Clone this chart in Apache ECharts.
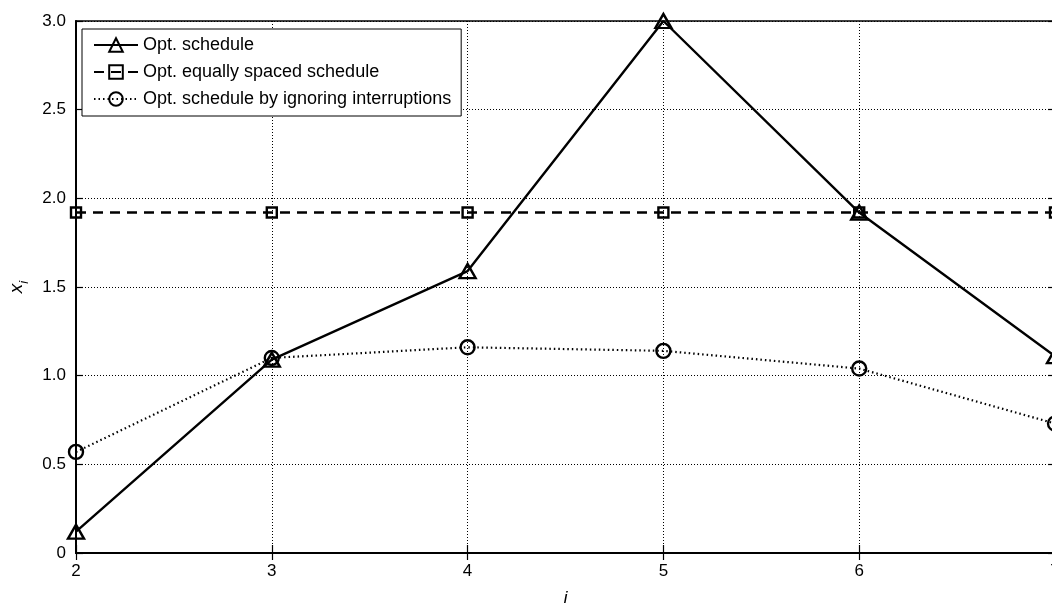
<!DOCTYPE html>
<html>
<head>
<meta charset="utf-8">
<script src="https://cdn.jsdelivr.net/npm/echarts@6/dist/echarts.min.js"></script>
<style>
html,body{margin:0;padding:0;background:#fff;}
#chart{width:1052px;height:603px;}
</style>
</head>
<body>
<div id="chart"></div>
<script>
// ---- data ----
var categories = [2, 3, 4, 5, 6, 7];
var optSchedule = [0.12, 1.09, 1.59, 3.00, 1.92, 1.11];
var equalSchedule = [1.92, 1.92, 1.92, 1.92, 1.92, 1.92];
var ignoreSchedule = [0.57, 1.10, 1.16, 1.14, 1.04, 0.73];
var seriesNames = ['Opt. schedule', 'Opt. equally spaced schedule', 'Opt. schedule by ignoring interruptions'];
var yTicks = [0, 0.5, 1.0, 1.5, 2.0, 2.5, 3.0];

function pairs(vals) {
  return categories.map(function (c, i) { return [c, vals[i]]; });
}

var FONT = 'Liberation Sans, Arial, Helvetica, sans-serif';
var chart = echarts.init(document.getElementById('chart'), null, {renderer: 'canvas'});

var gridLine = {show: true, lineStyle: {color: '#000', width: 1, type: [1, 2]}};

var option = {
  animation: false,
  backgroundColor: '#fff',
  textStyle: {fontFamily: FONT},
  grid: {
    left: 76, right: -3, top: 21, bottom: 50,
    containLabel: false,
    outerBoundsMode: 'none',
    show: true, borderColor: '#000', borderWidth: 1.5, backgroundColor: 'transparent'
  },
  legend: {
    left: 82, top: 29,
    orient: 'vertical',
    backgroundColor: '#fff',
    borderColor: '#000', borderWidth: 1,
    borderRadius: 0,
    padding: [7, 10, 8, 11],
    itemWidth: 44, itemHeight: 17, itemGap: 9, itemTextGap: 5,
    textStyle: {fontSize: 18, color: '#000', fontFamily: FONT},
    data: seriesNames
  },
  xAxis: [{
    type: 'value', min: 2, max: 7, interval: 1, position: 'bottom',
    axisLine: {show: true, lineStyle: {color: '#000', width: 2}},
    axisTick: {show: true, inside: true, length: 8, lineStyle: {color: '#000', width: 1.2}},
    axisLabel: {color: '#000', fontSize: 17, margin: 10, fontFamily: FONT},
    splitLine: gridLine,
    name: 'i', nameLocation: 'middle', nameGap: 37,
    nameTextStyle: {fontSize: 18, fontStyle: 'italic', color: '#000', fontFamily: FONT}
  }, {
    type: 'value', min: 2, max: 7, interval: 1, position: 'top',
    axisLine: {show: true, lineStyle: {color: '#000', width: 1.5}},
    axisTick: {show: true, inside: true, length: 7, lineStyle: {color: '#000', width: 1.2}},
    axisLabel: {show: false}, splitLine: {show: false}
  }],
  yAxis: [{
    type: 'value', min: 0, max: 3, interval: 0.5, position: 'left',
    axisLine: {show: true, lineStyle: {color: '#000', width: 2}},
    axisTick: {show: true, inside: true, length: 7, lineStyle: {color: '#000', width: 1.2}},
    axisLabel: {
      color: '#000', fontSize: 17, margin: 10, fontFamily: FONT,
      formatter: function (v) {
        for (var k = 0; k < yTicks.length; k++) {
          if (Math.abs(yTicks[k] - v) < 1e-9) return v === 0 ? '0' : yTicks[k].toFixed(1);
        }
        return '';
      }
    },
    splitLine: gridLine,
    name: '{x|x}{s|i}', nameLocation: 'middle', nameGap: 50, nameRotate: 90,
    nameTextStyle: {
      color: '#000', fontFamily: FONT,
      rich: {
        x: {fontSize: 19, fontStyle: 'italic', color: '#000', fontFamily: FONT, verticalAlign: 'bottom', lineHeight: 22},
        s: {fontSize: 13, fontStyle: 'italic', color: '#000', fontFamily: FONT, verticalAlign: 'bottom', lineHeight: 22, padding: [0, 0, -5, 0]}
      }
    }
  }, {
    type: 'value', min: 0, max: 3, interval: 0.5, position: 'right',
    axisLine: {show: true, lineStyle: {color: '#000', width: 1.5}},
    axisTick: {show: true, inside: true, length: 7, lineStyle: {color: '#000', width: 1.2}},
    axisLabel: {show: false}, splitLine: {show: false}
  }],
  series: [{
    name: seriesNames[0], type: 'line', data: pairs(optSchedule),
    clip: false, z: 5,
    symbol: 'triangle', symbolSize: [16, 14],
    lineStyle: {color: '#000', width: 2.4, type: 'solid'},
    itemStyle: {color: 'rgba(255,255,255,0)', borderColor: '#000', borderWidth: 2.4}
  }, {
    name: seriesNames[1], type: 'line', data: pairs(equalSchedule),
    clip: false, z: 4,
    symbol: 'rect', symbolSize: [10, 10],
    lineStyle: {color: '#000', width: 2.4, type: [10, 7]},
    itemStyle: {color: 'rgba(255,255,255,0)', borderColor: '#000', borderWidth: 2.4}
  }, {
    name: seriesNames[2], type: 'line', data: pairs(ignoreSchedule),
    clip: false, z: 3,
    symbol: 'circle', symbolSize: [14, 14],
    lineStyle: {color: '#000', width: 2.2, type: [1.5, 3]},
    itemStyle: {color: 'rgba(255,255,255,0)', borderColor: '#000', borderWidth: 2.4}
  }]
};
chart.setOption(option);
</script>
</body>
</html>
